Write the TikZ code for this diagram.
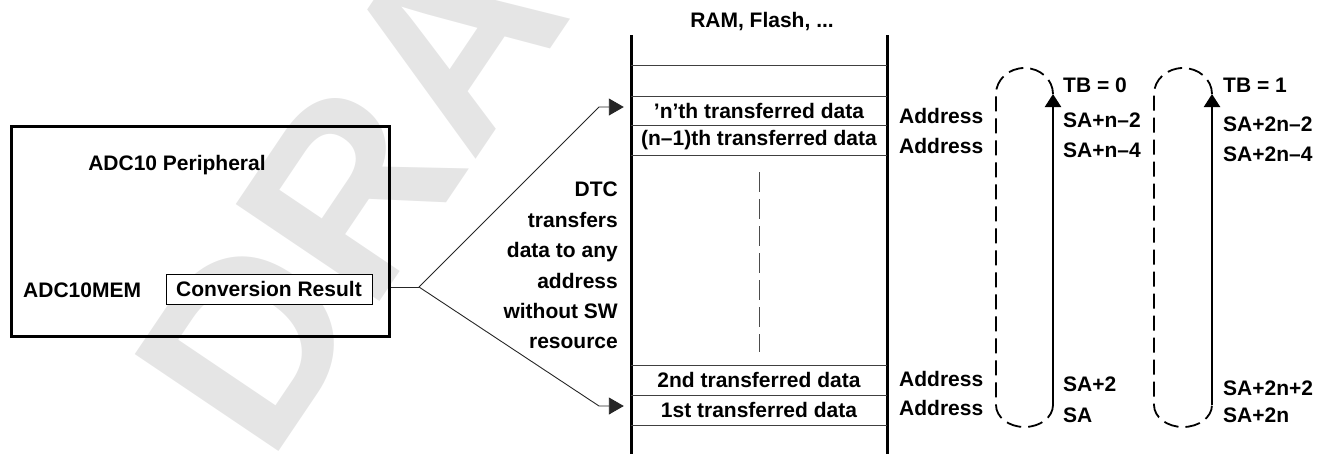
\documentclass[tikz,border=0pt]{standalone}
\usepackage{fontspec}
\setmainfont{Liberation Sans}
\usetikzlibrary{arrows.meta}
\begin{document}
\begin{tikzpicture}[x=1pt,y=-1pt,
  lbl/.style={font=\fontsize{21}{30.4}\selectfont\bfseries, inner sep=0pt},
  cellbox/.style={lbl, minimum width=256pt, minimum height=30pt},
  sepline/.style={line width=0.9pt, draw=black!75},
  wire/.style={line width=0.9pt, draw=black!85},
  wirearrow/.style={wire, -{Triangle[length=15pt,width=17pt]}},
  loopdash/.style={line width=1.8pt, dash pattern=on 15pt off 7pt},
  looparrow/.style={line width=2.3pt, -{Triangle[length=13pt,width=16pt]}},
  colline/.style={line width=3pt}]
\useasboundingbox (0,0) rectangle (1317,453);
\clip (0,0) rectangle (1317,453);

% background watermark
\node[rotate=56, anchor=base west, inner sep=0pt, text=black!10,
      font=\fontsize{252}{252}\selectfont\bfseries] (wm) at (269,466) {DRAFT};

% peripheral block
\node[draw, line width=2.7pt, minimum width=378pt, minimum height=210pt,
      inner sep=0pt, anchor=north west] (adc) at (10,125) {};
\node[lbl, anchor=base] (title) at (177,170) {ADC10 Peripheral};
\node[lbl, anchor=base west] (mem) at (23,297) {ADC10MEM};
\node[lbl, draw, fill=white, line width=0.9pt, minimum width=206pt,
      minimum height=30pt] (conv) at (269,289) {Conversion Result};

% memory column
\node[lbl, anchor=base] (ram) at (762,27) {RAM, Flash, ...};
\draw[colline] (631,35) -- (631,460);
\draw[colline] (887,35) -- (887,460);
\foreach \yy in {65,96,125,155,365,395,425}
  \draw[sepline] (631,\yy) -- (887,\yy);
\node[cellbox] (cn)  at (759,110.5) {’n’th transferred data};
\node[cellbox] (cn1) at (759,140)   {(n–1)th transferred data};
\node[cellbox] (c2)  at (759,380)   {2nd transferred data};
\node[cellbox] (c1)  at (759,410)   {1st transferred data};
\draw[line width=1pt, draw=black!70, dash pattern=on 20pt off 7pt] (cn1.south |- 0,172) -- (c2.north |- 0,352);

% transfer paths
\coordinate (fork) at (419,287);
\coordinate (upbend) at (599,107);
\coordinate (lowbend) at (599,406);
\draw[wire] (adc.east |- conv.east) ++(0,-2) -- (fork);
\draw[wirearrow] (fork) -- (upbend) -- ([xshift=-7pt]cn.west |- upbend);
\draw[wirearrow] (fork) -- (lowbend) -- ([xshift=-7pt]c1.west |- lowbend);
\node[lbl, align=right, anchor=north east] (dtc) at (618,182) {DTC\\transfers\\data to any\\address\\without SW\\resource};

% address labels
\node[lbl, anchor=base west] (a1) at (899,123) {Address};
\node[lbl, anchor=base west] (a2) at (899,153) {Address};
\node[lbl, anchor=base west] (a3) at (899,386) {Address};
\node[lbl, anchor=base west] (a4) at (899,415) {Address};

% loop for TB = 0
\coordinate (l1top) at (1053,94);
\coordinate (l1bot) at (1053,405);
\draw[loopdash] (l1top) arc[start angle=0, end angle=-180, x radius=28.5, y radius=26]
  -- ++(0,311) arc[start angle=180, end angle=0, x radius=28.5, y radius=22];
\draw[looparrow] (l1bot) -- (l1top);
\node[lbl, anchor=base west] (tb0) at (1063,92) {TB = 0};
\node[lbl, anchor=base west] at (1063,127) {SA+n–2};
\node[lbl, anchor=base west] at (1063,157) {SA+n–4};
\node[lbl, anchor=base west] at (1063,391) {SA+2};
\node[lbl, anchor=base west] at (1063,422) {SA};

% loop for TB = 1
\coordinate (l2top) at (1212,94);
\coordinate (l2bot) at (1212,405);
\draw[loopdash] (l2top) arc[start angle=0, end angle=-180, x radius=29, y radius=26]
  -- ++(0,311) arc[start angle=180, end angle=0, x radius=29, y radius=22];
\draw[looparrow] (l2bot) -- (l2top);
\node[lbl, anchor=base west] (tb1) at (1223,92) {TB = 1};
\node[lbl, anchor=base west] at (1223,131) {SA+2n–2};
\node[lbl, anchor=base west] at (1223,161) {SA+2n–4};
\node[lbl, anchor=base west] at (1223,395) {SA+2n+2};
\node[lbl, anchor=base west] at (1223,422) {SA+2n};
\end{tikzpicture}
\end{document}
